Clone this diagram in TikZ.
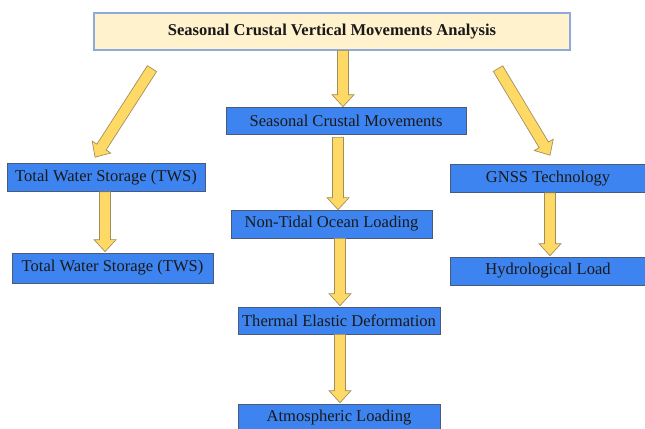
\documentclass[tikz,border=0pt]{standalone}
\usepackage{fontspec}
\setmainfont{Liberation Serif}
\usetikzlibrary{calc}
\definecolor{boxblue}{HTML}{3D84F0}
\definecolor{boxedge}{HTML}{4A5A78}
\definecolor{titlefill}{HTML}{FFF2CC}
\definecolor{titleedge}{HTML}{8EAADB}
\definecolor{arrowfill}{HTML}{FFD966}
\definecolor{arrowedge}{HTML}{A08C5C}
\begin{document}
\begin{tikzpicture}[x=0.75pt, y=-0.75pt,
    every node/.style={font=\fontsize{12.4}{14}\selectfont, text=black!90, inner sep=0pt},
    titlebox/.style={draw=titleedge, fill=titlefill, line width=0.9pt, minimum width=357pt, minimum height=27.75pt, font=\fontsize{12.4}{14}\selectfont\bfseries},
    stepbox/.style={draw=boxedge, fill=boxblue, line width=0.5pt, minimum height=21pt},
    blockarrow/.style={draw=arrowedge, fill=arrowfill, line width=0.5pt,
        to path={let \p1=($(\tikztotarget)-(\tikztostart)$), \n1={atan2(\y1,\x1)} in
            ($(\tikztostart)+(\n1+90:4.1pt)$)
            -- ($(\tikztotarget)+(\n1:-9pt)+(\n1+90:4.1pt)$)
            -- ($(\tikztotarget)+(\n1:-9pt)+(\n1+90:8.25pt)$)
            -- (\tikztotarget)
            -- ($(\tikztotarget)+(\n1:-9pt)+(\n1-90:8.25pt)$)
            -- ($(\tikztotarget)+(\n1:-9pt)+(\n1-90:4.1pt)$)
            -- ($(\tikztostart)+(\n1-90:4.1pt)$) -- cycle}}]
    \useasboundingbox (0,0) rectangle (645,428);
    \node[titlebox] (title) at (332,31.5) {Seasonal Crustal Vertical Movements Analysis};
    \node[stepbox, minimum width=180pt, minimum height=20.25pt] (scm) at (346,120.5) {Seasonal Crustal Movements};
    \node[stepbox, minimum width=150.75pt] (ntol) at (331.5,224) {Non-Tidal Ocean Loading};
    \node[stepbox, minimum width=151.5pt, minimum height=20.25pt] (ted) at (339,320.5) {Thermal Elastic Deformation};
    \node[stepbox, minimum width=151.5pt] (atm) at (339,418) {Atmospheric Loading};
    \node[stepbox, minimum width=148.5pt] (tws1) at (106,177.5) {Total Water Storage (TWS)};
    \node[stepbox, minimum width=150.75pt, minimum height=22.5pt] (tws2) at (112.5,268) {Total Water Storage (TWS)};
    \node[stepbox, minimum width=147pt] (gnss) at (548,178.5) {GNSS Technology};
    \node[stepbox, minimum width=147pt] (hl) at (548,271) {Hydrological Load};
    \draw[blockarrow] ([xshift=8.25pt]title.south) to ([xshift=-2.25pt]scm.north);
    \draw[blockarrow] ([xshift=-6pt, yshift=-2.25pt]scm.south) to ([xshift=4.9pt]ntol.north);
    \draw[blockarrow] ([xshift=6.4pt]ntol.south) to ([xshift=0.75pt, yshift=0.75pt]ted.north);
    \draw[blockarrow] ([xshift=0.75pt]ted.south) to ([xshift=0.75pt, yshift=0.75pt]atm.north);
    \draw[blockarrow] ([xshift=-0.75pt]tws1.south) to ([xshift=-5.6pt, yshift=0.75pt]tws2.north);
    \draw[blockarrow] ([xshift=1.5pt]gnss.south) to ([xshift=1.5pt, yshift=0.75pt]hl.north);
    \draw[blockarrow] ([xshift=-135pt, yshift=-13.5pt]title.south) to ([xshift=-8.25pt, yshift=4.5pt]tws1.north);
    \draw[blockarrow] ([xshift=124.5pt, yshift=-13.5pt]title.south) to ([xshift=1.5pt, yshift=6.75pt]gnss.north);
\end{tikzpicture}
\end{document}
